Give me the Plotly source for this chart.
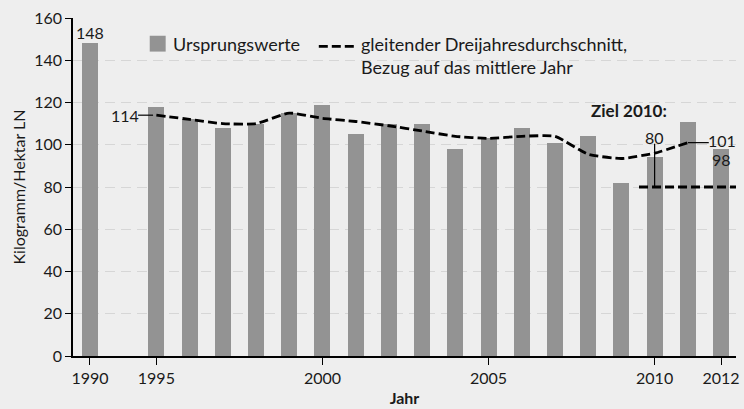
import plotly.graph_objects as go

# ---- data ----
years = [1990, 1995, 1996, 1997, 1998, 1999, 2000, 2001, 2002, 2003, 2004,
         2005, 2006, 2007, 2008, 2009, 2010, 2011, 2012]
values = [148, 118, 112, 108, 110, 115, 119, 105, 110, 110, 98,
          103, 108, 101, 104, 82, 94, 111, 98]
avg_years = [1995, 1996, 1997, 1998, 1999, 2000, 2001, 2002, 2003, 2004,
             2005, 2006, 2007, 2008, 2009, 2010, 2011]
avg_values = [114, 112, 110, 110, 115, 112.5, 111, 109, 106.5, 104,
              103, 104, 104, 95.5, 93.5, 96, 101]
target_year = 2010
target_value = 80
tick_years = [1990, 1995, 2000, 2005, 2010, 2012]
y_ticks = [0, 20, 40, 60, 80, 100, 120, 140, 160]


def slot(y):
    # broken axis: 1990, one empty slot, then 1995..2012 consecutive
    return 0 if y == 1990 else y - 1993


FONT = "Lato"
BG = "#eeeeee"
BAR = "#939393"
TXT = "#1a1a1a"
DASH = "9px,4px"

fig = go.Figure()
fig.add_trace(go.Bar(
    x=[slot(y) for y in years], y=values, width=0.48,
    marker=dict(color=BAR, line=dict(width=0)), showlegend=False))
fig.add_trace(go.Scatter(
    x=[slot(y) for y in avg_years], y=avg_values, mode="lines",
    line=dict(color="black", width=2.8, dash=DASH, shape="spline", smoothing=0.5),
    showlegend=False))
# target line
fig.add_trace(go.Scatter(
    x=[slot(target_year) - 0.47, 19.45], y=[target_value, target_value], mode="lines",
    line=dict(color="black", width=2.8, dash=DASH), showlegend=False))

shapes = []
ann = []
# 80 leader
shapes.append(dict(type="line", xref="x", yref="y", x0=slot(target_year), x1=slot(target_year),
                   y0=target_value, y1=100.5, line=dict(color="black", width=1.2)))
ann.append(dict(x=slot(target_year), y=103.5, text=str(target_value), showarrow=False,
                font=dict(size=16, color=TXT)))
# 101 leader
shapes.append(dict(type="line", xref="x", yref="y", x0=slot(2011), x1=slot(2011) + 0.63,
                   y0=avg_values[-1], y1=avg_values[-1], line=dict(color="black", width=1.2)))
ann.append(dict(x=slot(2011) + 0.63, y=avg_values[-1] + 1, text=str(avg_values[-1]), showarrow=False,
                xanchor="left", xshift=-3, font=dict(size=16, color=TXT)))
# 98
ann.append(dict(x=slot(2012), y=93, text=str(values[-1]), showarrow=False,
                font=dict(size=16, color=TXT)))
# 114 leader
shapes.append(dict(type="line", xref="x", yref="y", x0=slot(1995) - 0.55, x1=slot(1995) - 0.1,
                   y0=avg_values[0], y1=avg_values[0], line=dict(color="black", width=1.2)))
ann.append(dict(x=slot(1995) - 0.55, y=avg_values[0], text=str(avg_values[0]), showarrow=False,
                xanchor="right", xshift=3, font=dict(size=16, color=TXT)))
# 148
ann.append(dict(x=slot(1990), y=values[0], text=str(values[0]), showarrow=False,
                yanchor="bottom", yshift=-1, font=dict(size=16, color=TXT)))
# Ziel 2010
ann.append(dict(x=16.23, y=116.2, text="<b>Ziel 2010:</b>", showarrow=False,
                font=dict(size=17, color=TXT)))

# legend (manual)
shapes.append(dict(type="rect", xref="x", yref="y", x0=1.8, x1=2.28, y0=144.1, y1=151.6,
                   fillcolor=BAR, line=dict(width=0)))
ann.append(dict(x=2.45, y=147.6, text="Ursprungswerte", showarrow=False, xanchor="left",
                font=dict(size=18, color=TXT)))
shapes.append(dict(type="line", xref="x", yref="y", x0=6.89, x1=7.99, y0=146.6, y1=146.6,
                   line=dict(color="black", width=2.8, dash=DASH)))
ann.append(dict(x=8.1, y=147.6, text="gleitender Dreijahresdurchschnitt,<br>Bezug auf das mittlere Jahr",
                showarrow=False, xanchor="left", yanchor="top", yshift=13, align="left",
                font=dict(size=18, color=TXT)))

fig.update_layout(
    width=744, height=409,
    margin=dict(l=73, r=4, t=18, b=52),
    paper_bgcolor=BG, plot_bgcolor=BG,
    font=dict(family=FONT, size=16, color=TXT),
    bargap=0,
    shapes=shapes, annotations=ann,
    xaxis=dict(range=[-0.51, 19.45], tickvals=[slot(y) for y in tick_years],
               ticktext=[str(y) for y in tick_years], ticks="outside", ticklen=7,
               tickcolor="black", tickwidth=1.2, showline=True, linecolor="black", linewidth=1.5,
               showgrid=False, zeroline=False,
               title=dict(text="<b>Jahr</b>", font=dict(size=16), standoff=7),
               tickfont=dict(size=16)),
    yaxis=dict(range=[0, 160], tickvals=y_ticks, ticks="outside", ticklen=6,
               tickcolor="black", tickwidth=1.2, showline=True, linecolor="black", linewidth=1.5,
               showgrid=True, gridcolor="#d6d6d6", gridwidth=1, griddash="10px,6px",
               zeroline=False,
               title=dict(text="Kilogramm/Hektar LN", font=dict(size=16), standoff=5),
               tickfont=dict(size=16)),
)
fig.write_html(
    "out.html",
    config={"displayModeBar": False},
    post_script="document.body.style.margin='0';document.body.style.overflow='hidden';"
                "document.body.style.background='#eeeeee';")
